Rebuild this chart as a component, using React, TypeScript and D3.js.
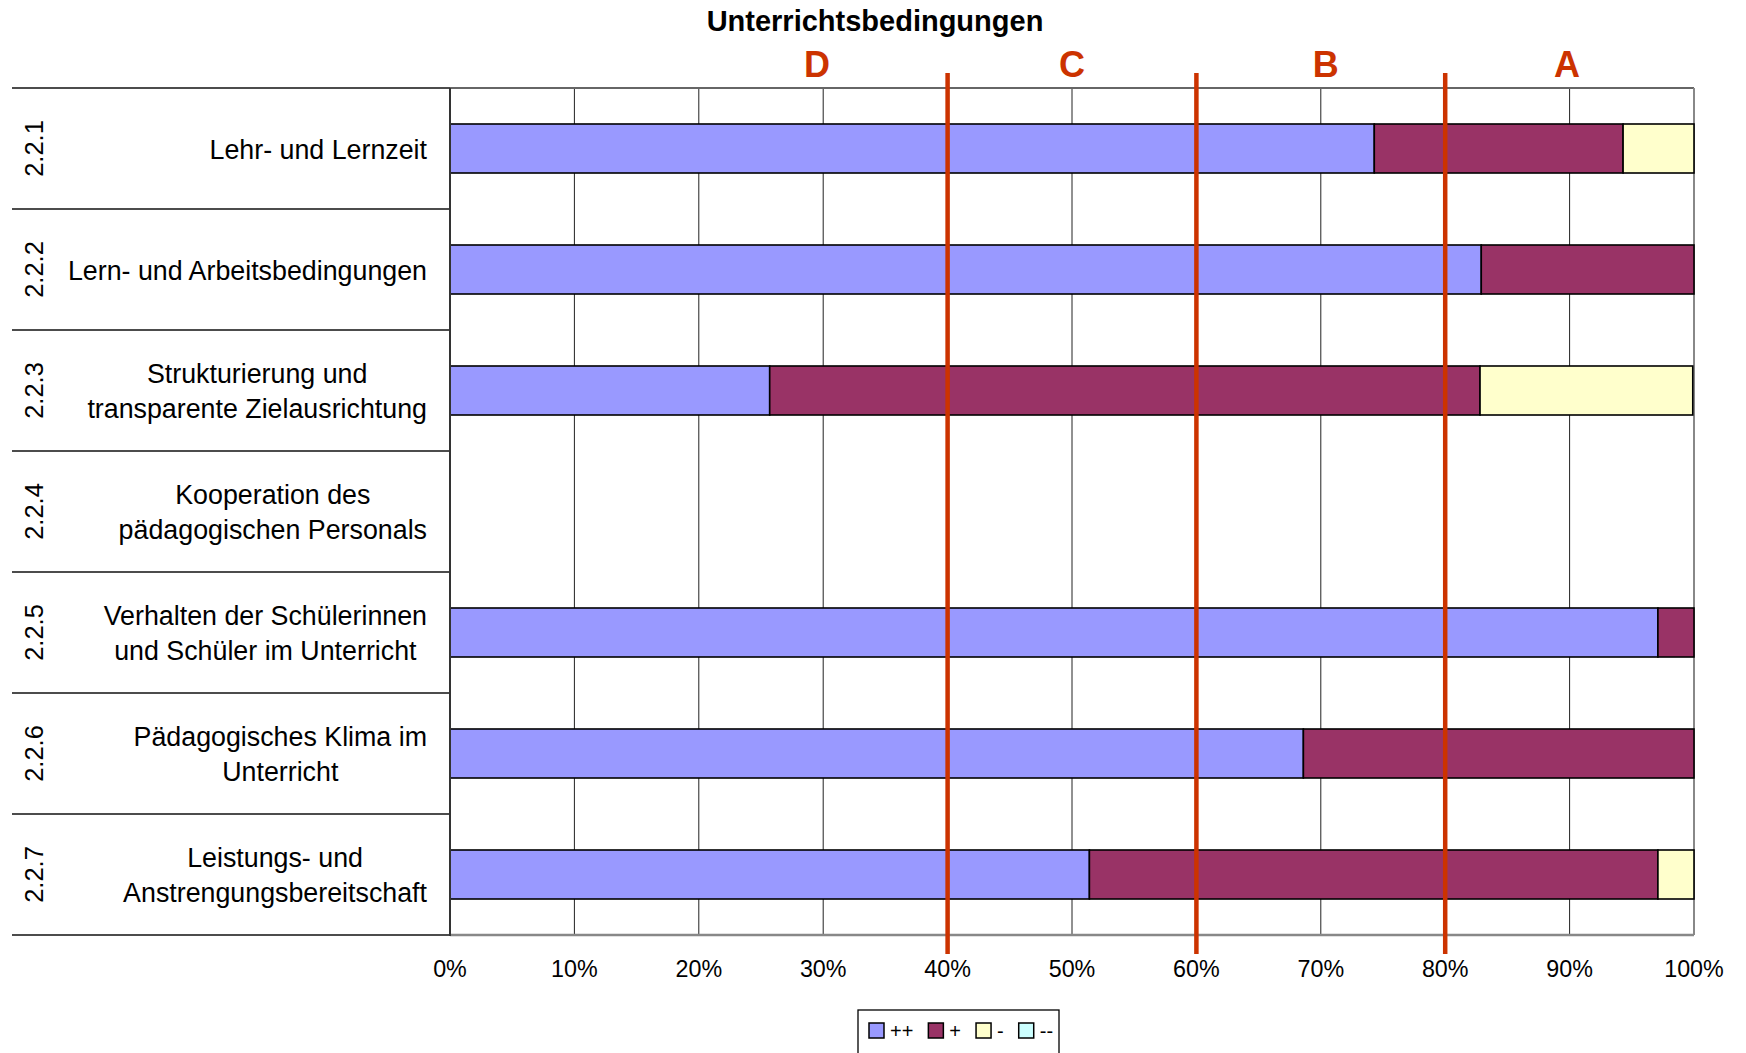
import React, { useEffect, useRef } from "react";
import * as d3 from "d3";

const title = "Unterrichtsbedingungen";
const codes = ["2.2.1", "2.2.2", "2.2.3", "2.2.4", "2.2.5", "2.2.6", "2.2.7"];
const categories = [
  ["Lehr- und Lernzeit"],
  ["Lern- und Arbeitsbedingungen"],
  ["Strukturierung und", "transparente Zielausrichtung"],
  ["Kooperation des", "pädagogischen Personals"],
  ["Verhalten der Schülerinnen", "und Schüler im Unterricht"],
  ["Pädagogisches Klima im", "Unterricht"],
  ["Leistungs- und", "Anstrengungsbereitschaft"]
];
const seriesNames = ["++", "+", "-", "--"];
const seriesColors = ["#9999FF", "#993366", "#FFFFCC", "#CCFFFF"];
const valuesVeryGood = [74.3, 82.9, 25.7, 0, 97.1, 68.6, 51.4];
const valuesGood = [20.0, 17.1, 57.1, 0, 2.9, 31.4, 45.7];
const valuesBad = [5.7, 0, 17.1, 0, 0, 0, 2.9];
const valuesVeryBad = [0, 0, 0, 0, 0, 0, 0];
const tickValues = [0, 10, 20, 30, 40, 50, 60, 70, 80, 90, 100];
const thresholds = [40, 60, 80];
const gradeLetters = ["D", "C", "B", "A"];
const gradePositions = [29.5, 50, 70.4, 89.8];

const RED = "#CC3300";
const FONT = "'Liberation Sans', Arial, Helvetica, sans-serif";

export default function App() {
  const ref = useRef<SVGSVGElement>(null);

  useEffect(() => {
    const svg = d3.select(ref.current);
    svg.selectAll("*").remove();

    const left = 450, right = 1694, top = 88, bottom = 935;
    const tableLeft = 12;

    const rows = codes.map((c, i) => ({
      code: c,
      lines: categories[i],
      "++": valuesVeryGood[i],
      "+": valuesGood[i],
      "-": valuesBad[i],
      "--": valuesVeryBad[i]
    }));

    const x = d3.scaleLinear().domain([0, 100]).range([left, right]);
    const yRow = d3.scaleBand().domain(codes).range([top, bottom]).padding(0);
    const yBar = d3.scaleBand().domain(codes).range([top, bottom]).paddingInner(0.595).paddingOuter(0.2975);
    const color = d3.scaleOrdinal<string, string>().domain(seriesNames).range(seriesColors);

    // title
    svg.append("text")
      .attr("x", 875).attr("y", 31)
      .attr("text-anchor", "middle")
      .style("font-family", FONT).style("font-weight", "bold").style("font-size", "29px")
      .text(title);

    // vertical gridlines
    svg.append("g").selectAll("line")
      .data(tickValues.slice(1, -1))
      .join("line")
      .attr("x1", d => x(d)).attr("x2", d => x(d))
      .attr("y1", top).attr("y2", bottom)
      .attr("stroke", "#222").attr("stroke-width", 1);

    // plot frame (top, right, bottom)
    svg.append("line").attr("x1", left).attr("x2", right).attr("y1", top).attr("y2", top)
      .attr("stroke", "#666").attr("stroke-width", 2);
    svg.append("line").attr("x1", right).attr("x2", right).attr("y1", top).attr("y2", bottom)
      .attr("stroke", "#888").attr("stroke-width", 2);
    svg.append("line").attr("x1", left).attr("x2", right).attr("y1", bottom).attr("y2", bottom)
      .attr("stroke", "#888").attr("stroke-width", 2.5);

    // table lines on the left
    const bounds = codes.map(c => yRow(c) as number).concat([bottom]);
    svg.append("g").selectAll("line")
      .data(bounds)
      .join("line")
      .attr("x1", tableLeft).attr("x2", left)
      .attr("y1", d => d).attr("y2", d => d)
      .attr("stroke", "#111").attr("stroke-width", 1.3);

    // stacked bars
    const stacked = d3.stack<any>().keys(seriesNames)(rows);
    svg.append("g").selectAll("g")
      .data(stacked)
      .join("g")
      .attr("fill", d => color(d.key))
      .selectAll("rect")
      .data(d => d.filter(s => s[1] - s[0] > 0))
      .join("rect")
      .attr("x", d => x(d[0]))
      .attr("width", d => x(d[1]) - x(d[0]))
      .attr("y", d => yBar(d.data.code) as number)
      .attr("height", yBar.bandwidth())
      .attr("stroke", "#000").attr("stroke-width", 1.6);

    // left axis line
    svg.append("line").attr("x1", left).attr("x2", left).attr("y1", top).attr("y2", bottom + 1)
      .attr("stroke", "#333").attr("stroke-width", 2);

    // red threshold lines
    svg.append("g").selectAll("line")
      .data(thresholds)
      .join("line")
      .attr("x1", d => x(d)).attr("x2", d => x(d))
      .attr("y1", 73).attr("y2", 954)
      .attr("stroke", RED).attr("stroke-width", 4.5);

    // grade letters
    svg.append("g").selectAll("text")
      .data(gradeLetters)
      .join("text")
      .attr("x", (d, i) => x(gradePositions[i]))
      .attr("y", 77)
      .attr("text-anchor", "middle")
      .attr("fill", RED)
      .style("font-family", FONT).style("font-weight", "bold").style("font-size", "36px")
      .text(d => d);

    // x tick labels
    svg.append("g").selectAll("text")
      .data(tickValues)
      .join("text")
      .attr("x", d => x(d))
      .attr("y", 977)
      .attr("text-anchor", "middle")
      .style("font-family", FONT).style("font-size", "23.3px")
      .text(d => d + "%");

    // codes (rotated)
    svg.append("g").selectAll("text")
      .data(codes)
      .join("text")
      .attr("transform", d => `translate(43,${(yRow(d) as number) + yRow.bandwidth() / 2}) rotate(-90)`)
      .attr("text-anchor", "middle")
      .style("font-family", FONT).style("font-size", "25.5px")
      .text(d => d);

    // category labels, centered block right-aligned to 427
    const labelRight = 427;
    const lineGap = 35;
    rows.forEach(r => {
      const cy = (yRow(r.code) as number) + yRow.bandwidth() / 2;
      const g = svg.append("g");
      const texts = g.selectAll("text")
        .data(r.lines)
        .join("text")
        .attr("y", (d, i) => cy + (i - (r.lines.length - 1) / 2) * lineGap)
        .attr("dy", "0.38em")
        .attr("text-anchor", "middle")
        .style("font-family", FONT).style("font-size", "26.8px")
        .text(d => d);
      let maxW = 0;
      texts.each(function () {
        maxW = Math.max(maxW, (this as SVGTextElement).getComputedTextLength());
      });
      texts.attr("x", labelRight - maxW / 2);
    });

    // legend
    const legend = svg.append("g");
    legend.append("rect")
      .attr("x", 858).attr("y", 1010).attr("width", 201).attr("height", 60)
      .attr("fill", "#fff").attr("stroke", "#000").attr("stroke-width", 1.3);
    let lx = 869;
    seriesNames.forEach(name => {
      legend.append("rect")
        .attr("x", lx).attr("y", 1023).attr("width", 15).attr("height", 15)
        .attr("fill", color(name)).attr("stroke", "#000").attr("stroke-width", 1.5);
      const t = legend.append("text")
        .attr("x", lx + 21).attr("y", 1038)
        .style("font-family", FONT).style("font-size", "20px")
        .text(name);
      const w = (t.node() as SVGTextElement).getComputedTextLength();
      lx += 21 + w + 15;
    });
  }, []);

  return (
    <div style={{ position: "absolute", left: 0, top: 0 }}>
      <svg ref={ref} width={1746} height={1053} style={{ display: "block", background: "#fff" }} />
    </div>
  );
}
